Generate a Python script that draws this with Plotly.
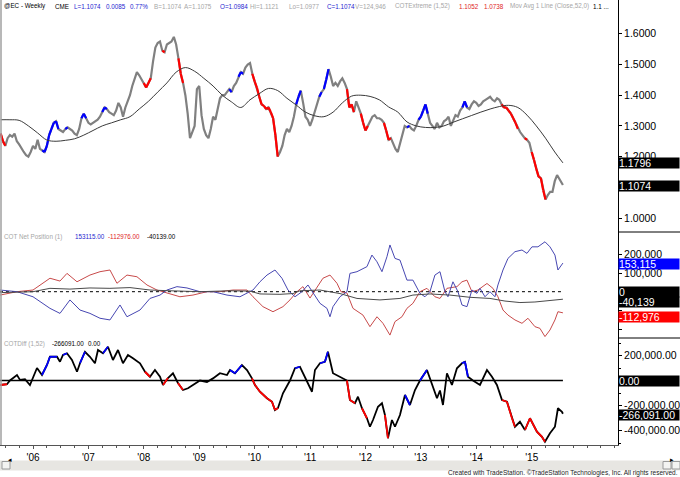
import numpy as np
import plotly.graph_objects as go

# ------------------------------------------------------------------ data
# weekly euro FX futures, sampled twice a month (1st / 15th), Jun 2005 .. Jul 2015
price_2005 = [1.275, 1.25, 1.235, 1.26, 1.27, 1.265, 1.275, 1.25, 1.24, 1.225, 1.215, 1.205, 1.20, 1.215]
price_2006 = [1.235, 1.225, 1.255, 1.225, 1.22, 1.215, 1.235, 1.27, 1.29, 1.31, 1.315, 1.29,
              1.285, 1.28, 1.29, 1.295, 1.29, 1.285, 1.275, 1.27, 1.29, 1.325, 1.34, 1.325]
price_2007 = [1.31, 1.305, 1.31, 1.315, 1.32, 1.33, 1.345, 1.36, 1.355, 1.345, 1.34, 1.335,
              1.35, 1.375, 1.36, 1.33, 1.36, 1.38, 1.40, 1.43, 1.45, 1.475, 1.465, 1.45]
price_2008 = [1.44, 1.425, 1.44, 1.455, 1.51, 1.555, 1.57, 1.575, 1.545, 1.54, 1.565, 1.57,
              1.575, 1.59, 1.565, 1.52, 1.47, 1.44, 1.40, 1.34, 1.26, 1.28, 1.30, 1.42]
price_2009 = [1.43, 1.335, 1.29, 1.27, 1.26, 1.29, 1.33, 1.32, 1.35, 1.39, 1.40, 1.40,
              1.41, 1.42, 1.41, 1.43, 1.44, 1.46, 1.475, 1.47, 1.49, 1.50, 1.505, 1.47]
price_2010 = [1.445, 1.425, 1.395, 1.37, 1.365, 1.355, 1.36, 1.345, 1.325, 1.27, 1.20, 1.215,
              1.235, 1.27, 1.29, 1.28, 1.30, 1.33, 1.37, 1.395, 1.415, 1.375, 1.33, 1.32]
price_2011 = [1.30, 1.32, 1.345, 1.37, 1.395, 1.41, 1.42, 1.45, 1.485, 1.46, 1.43, 1.44,
              1.43, 1.445, 1.455, 1.44, 1.42, 1.36, 1.37, 1.345, 1.38, 1.36, 1.34, 1.31]
price_2012 = [1.285, 1.30, 1.315, 1.33, 1.335, 1.325, 1.325, 1.32, 1.31, 1.285, 1.255, 1.26,
              1.24, 1.225, 1.215, 1.245, 1.27, 1.30, 1.295, 1.30, 1.29, 1.285, 1.30, 1.32]
price_2013 = [1.33, 1.35, 1.37, 1.34, 1.31, 1.30, 1.29, 1.31, 1.295, 1.30, 1.315, 1.32,
              1.33, 1.30, 1.32, 1.335, 1.33, 1.35, 1.36, 1.38, 1.36, 1.355, 1.37, 1.38]
price_2014 = [1.375, 1.365, 1.37, 1.38, 1.385, 1.39, 1.395, 1.385, 1.38, 1.39, 1.385, 1.37,
              1.36, 1.36, 1.35, 1.34, 1.325, 1.31, 1.29, 1.28, 1.27, 1.26, 1.255, 1.245]
price_2015 = [1.215, 1.19, 1.16, 1.135, 1.13, 1.09, 1.06, 1.075, 1.085, 1.085, 1.12, 1.14, 1.125, 1.115]
last_close = 1.1074
last_t = 2015.564

price_close = (price_2005 + price_2006 + price_2007 + price_2008 + price_2009 + price_2010 +
               price_2011 + price_2012 + price_2013 + price_2014 + price_2015 + [last_close])
price_t = list(2005 + 5 / 12 + np.arange(len(price_close) - 1) / 24) + [last_t]

# 52-week moving average, read every two months
ma_vals = [1.32, 1.32, 1.318, 1.30, 1.277, 1.254, 1.25, 1.253, 1.258, 1.27, 1.285, 1.30,
           1.31, 1.32, 1.33, 1.355, 1.38, 1.41, 1.44, 1.475, 1.49, 1.478, 1.455, 1.43,
           1.40, 1.378, 1.36, 1.385, 1.405, 1.422, 1.415, 1.39, 1.368, 1.345, 1.333, 1.33,
           1.345, 1.375, 1.397, 1.40, 1.396, 1.385, 1.362, 1.345, 1.313, 1.30, 1.295, 1.295,
           1.30, 1.312, 1.323, 1.334, 1.345, 1.355, 1.363, 1.367, 1.36, 1.335, 1.30, 1.26,
           1.215, 1.1796]
ma_t = list(2005 + 5 / 12 + np.arange(len(ma_vals) - 1) / 6) + [last_t]

# COTExtreme highlight periods (decimal years)
red_periods = [(2005.40, 2005.51), (2008.00, 2008.12), (2008.32, 2008.39), (2008.64, 2008.72),
               (2009.96, 2010.41), (2011.66, 2011.78), (2011.92, 2012.04), (2012.35, 2012.44),
               (2014.44, 2014.74), (2014.86, 2014.93), (2015.00, 2015.16), (2015.18, 2015.26)]
blue_periods = [(2006.15, 2006.45), (2006.58, 2006.64), (2006.88, 2006.94), (2007.24, 2007.34),
                (2009.54, 2009.58), (2009.70, 2009.78), (2010.76, 2010.84), (2011.16, 2011.20),
                (2011.26, 2011.33), (2012.74, 2012.81), (2012.96, 2013.11), (2013.74, 2013.84)]

# COT net positions (thousands of contracts)
cot_red_t = [2005.404, 2005.711, 2006.000, 2006.306, 2006.487, 2006.613, 2006.794, 2007.028, 2007.209,
             2007.389, 2007.515, 2007.696, 2007.876, 2008.057, 2008.237, 2008.418, 2008.526, 2008.652,
             2008.887, 2009.140, 2009.374, 2009.609, 2009.862, 2009.970, 2010.150, 2010.331, 2010.511,
             2010.638, 2010.764, 2010.872, 2010.999, 2011.125, 2011.233, 2011.360, 2011.486, 2011.558,
             2011.666, 2011.775, 2011.955, 2012.081, 2012.208, 2012.316, 2012.442, 2012.533, 2012.659,
             2012.749, 2012.857, 2012.984, 2013.110, 2013.254, 2013.345, 2013.471, 2013.651, 2013.742,
             2013.832, 2013.922, 2014.030, 2014.193, 2014.301, 2014.391, 2014.482, 2014.572, 2014.698,
             2014.825, 2014.933, 2015.059, 2015.149, 2015.240, 2015.330, 2015.420, 2015.474, 2015.564]
cot_red_k = [-18, 0, 9, 72, 57, 98, 53, 89, 107, 116, 45, 89, 80, 36, 9, -7, -18, -27, -18, 0, 0, 9, 9,
             -27, -80, -107, -80, -44, 0, 27, -34, 27, 72, 89, 45, 0, -7, -89, -125, -187, -134, -169,
             -232, -160, -134, -89, -62, 0, 18, -27, -36, 18, 27, 53, 62, 0, 9, 44, 18, -27, -98, -125,
             -151, -169, -142, -187, -196, -240, -205, -151, -107, -112.976]

cot_blue_t = [2005.404, 2005.711, 2006.000, 2006.306, 2006.487, 2006.667, 2006.848, 2007.028, 2007.209,
              2007.389, 2007.570, 2007.696, 2007.931, 2008.111, 2008.292, 2008.418, 2008.598, 2008.779,
              2009.013, 2009.248, 2009.501, 2009.735, 2009.970, 2010.096, 2010.223, 2010.367, 2010.493,
              2010.602, 2010.728, 2010.854, 2010.962, 2011.089, 2011.179, 2011.305, 2011.360, 2011.414,
              2011.540, 2011.666, 2011.720, 2011.847, 2012.027, 2012.117, 2012.208, 2012.298, 2012.388,
              2012.442, 2012.533, 2012.623, 2012.749, 2012.857, 2012.984, 2013.074, 2013.164, 2013.254,
              2013.345, 2013.435, 2013.489, 2013.579, 2013.670, 2013.742, 2013.832, 2013.922, 2014.012,
              2014.067, 2014.157, 2014.247, 2014.337, 2014.391, 2014.482, 2014.572, 2014.698, 2014.825,
              2014.915, 2015.005, 2015.113, 2015.240, 2015.330, 2015.420, 2015.474, 2015.564]
cot_blue_k = [9, 0, -27, -89, -116, -44, -98, -116, -142, -151, -71, -134, -98, -36, -18, 9, 27, 20,
              0, 0, -18, -27, 9, 53, 89, 116, 72, 9, -27, 0, 36, -18, -62, -89, -134, -80, -27, 0, 98,
              107, 134, 196, 160, 107, 187, 250, 178, 169, 62, 62, -9, -27, 0, 89, 107, 0, -27, 53, 0,
              -71, -80, 9, -9, 18, -27, 0, -27, 36, 116, 178, 214, 223, 205, 240, 240, 267, 240, 196,
              116, 153.115]

cot_black_t = [2005.404, 2005.711, 2006.000, 2006.306, 2006.667, 2007.028, 2007.389, 2007.750, 2008.111,
               2008.472, 2009.013, 2009.555, 2009.916, 2010.096, 2010.457, 2010.692, 2010.818, 2011.179,
               2011.540, 2011.847, 2012.262, 2012.623, 2012.857, 2013.164, 2013.525, 2013.886, 2014.247,
               2014.518, 2014.788, 2015.059, 2015.330, 2015.564]
cot_black_k = [-5, -3, 0, 18, 14, 20, 18, 22, 9, 5, 0, 5, 3, -12, -14, -10, 5, 9, -10, -36, -44, -36,
               -18, -12, -18, -30, -36, -50, -58, -55, -48, -40.139]

# COTDiff (1,52) (thousands)
diff_t = [2005.404, 2005.530, 2005.584, 2005.711, 2005.765, 2005.855, 2005.945, 2006.000, 2006.072,
          2006.162, 2006.252, 2006.306, 2006.433, 2006.487, 2006.541, 2006.613, 2006.703, 2006.794,
          2006.848, 2006.938, 2007.028, 2007.118, 2007.173, 2007.263, 2007.353, 2007.443, 2007.534,
          2007.624, 2007.714, 2007.804, 2007.931, 2008.021, 2008.111, 2008.201, 2008.292, 2008.346,
          2008.436, 2008.526, 2008.616, 2008.707, 2008.797, 2008.887, 2009.013, 2009.140, 2009.248,
          2009.374, 2009.501, 2009.555, 2009.645, 2009.771, 2009.862, 2009.952, 2010.006, 2010.096,
          2010.223, 2010.313, 2010.367, 2010.421, 2010.511, 2010.638, 2010.728, 2010.818, 2010.908,
          2011.035, 2011.089, 2011.179, 2011.269, 2011.323, 2011.414, 2011.540, 2011.666, 2011.720,
          2011.811, 2011.865, 2011.937, 2012.027, 2012.081, 2012.136, 2012.226, 2012.298, 2012.352,
          2012.406, 2012.478, 2012.533, 2012.623, 2012.713, 2012.803, 2012.894, 2012.984, 2013.110,
          2013.200, 2013.291, 2013.345, 2013.399, 2013.471, 2013.561, 2013.651, 2013.742, 2013.796,
          2013.850, 2013.940, 2014.067, 2014.193, 2014.283, 2014.373, 2014.464, 2014.554, 2014.644,
          2014.698, 2014.788, 2014.879, 2014.969, 2015.095, 2015.185, 2015.240, 2015.330, 2015.420,
          2015.474, 2015.546, 2015.564]
diff_k = [-36, -30, 0, 44, 5, 10, -36, 20, 100, 44, 124, 190, 190, 150, 204, 218, 164, 70, 138, 230,
          190, 138, 244, 218, 270, 164, 244, 138, 204, 178, 138, 70, 30, 84, 30, -36, 20, 58, -20, -76,
          -62, -36, 0, -12, 17, 58, 44, 84, 58, 124, 84, 17, -36, -90, -142, -170, -236, -220, -102, 0,
          98, 110, 30, -90, 84, 138, 150, 230, 58, 30, 0, -156, -182, -130, -222, -302, -370, -316, -210,
          -182, -276, -462, -316, -370, -276, -116, -196, -76, 0, 84, -22, -142, -80, -196, 58, -36, 98,
          138, 150, 30, 0, -36, 84, 30, -36, -156, -170, -302, -370, -330, -396, -302, -410, -450, -490,
          -422, -370, -222, -250, -266.091]

year_ticks = list(range(2006, 2016))
year_labels = ["'06", "'07", "'08", "'09", "'10", "'11", "'12", "'13", "'14", "'15"]

# ------------------------------------------------------------------ helpers
W, H = 680, 477
ML, MR, MT, MB = 0, 62, 0, 32
PW, PH = W - ML - MR, H - MT - MB


def pxx(x):
    return (x - ML) / PW


def pxy(y):
    return (H - MB - y) / PH


def highlight(ts, vs, periods):
    xs, ys = [], []
    for i in range(len(ts) - 1):
        a, b = ts[i], ts[i + 1]
        for p0, p1 in periods:
            ov = min(b, p1) - max(a, p0)
            if ov > 0 and ov >= 0.5 * min(b - a, p1 - p0):
                xs += [a, b, None]
                ys += [vs[i], vs[i + 1], None]
                break
    return xs, ys


FONT = "Liberation Sans, Arial, sans-serif"
GRAY_T = "#a6a6a6"
BLUE_T = "#2626d0"
RED_T = "#e02424"

cot_red = [v * 1000 for v in cot_red_k]
cot_blue = [v * 1000 for v in cot_blue_k]
cot_black = [v * 1000 for v in cot_black_k]
diff = [v * 1000 for v in diff_k]

fig = go.Figure()

# panel 1: price
fig.add_trace(go.Scatter(x=price_t, y=price_close, mode="lines",
                         line=dict(color="#808080", width=2.2), xaxis="x", yaxis="y"))
rx, ry = highlight(price_t, price_close, red_periods)
fig.add_trace(go.Scatter(x=rx, y=ry, mode="lines", line=dict(color="#ff0000", width=2.2),
                         xaxis="x", yaxis="y"))
bx, by = highlight(price_t, price_close, blue_periods)
fig.add_trace(go.Scatter(x=bx, y=by, mode="lines", line=dict(color="#0000ff", width=2.2),
                         xaxis="x", yaxis="y"))
fig.add_trace(go.Scatter(x=ma_t, y=ma_vals, mode="lines", line=dict(color="#3a3a3a", width=1, shape="spline"),
                         xaxis="x", yaxis="y"))

# panel 2: COT net positions
fig.add_trace(go.Scatter(x=[cot_blue_t[0], cot_blue_t[-1]], y=[0, 0], mode="lines",
                         line=dict(color="#000000", width=1, dash="dot"), xaxis="x2", yaxis="y2"))
fig.add_trace(go.Scatter(x=cot_red_t, y=cot_red, mode="lines", line=dict(color="#c84a4a", width=1),
                         xaxis="x2", yaxis="y2"))
fig.add_trace(go.Scatter(x=cot_blue_t, y=cot_blue, mode="lines", line=dict(color="#4747b2", width=1),
                         xaxis="x2", yaxis="y2"))
fig.add_trace(go.Scatter(x=cot_black_t, y=cot_black, mode="lines", line=dict(color="#4a4a4a", width=1),
                         xaxis="x2", yaxis="y2"))

# panel 3: COTDiff
fig.add_trace(go.Scatter(x=[diff_t[0], diff_t[-1]], y=[0, 0], mode="lines",
                         line=dict(color="#000000", width=1.5), xaxis="x3", yaxis="y3"))
fig.add_trace(go.Scatter(x=diff_t, y=diff, mode="lines", line=dict(color="#000000", width=1.8),
                         xaxis="x3", yaxis="y3"))
rx, ry = highlight(diff_t, diff, red_periods)
fig.add_trace(go.Scatter(x=rx, y=ry, mode="lines", line=dict(color="#ff0000", width=1.8),
                         xaxis="x3", yaxis="y3"))
bx, by = highlight(diff_t, diff, blue_periods)
fig.add_trace(go.Scatter(x=bx, y=by, mode="lines", line=dict(color="#0000ff", width=1.8),
                         xaxis="x3", yaxis="y3"))

xr = [2005.4044, 2016.558]
xcommon = dict(range=xr, showgrid=False, zeroline=False, fixedrange=True)
ycommon = dict(side="right", showgrid=False, zeroline=False, showline=True, linecolor="#000000",
               linewidth=1, ticks="outside", ticklen=3, tickcolor="#000000",
               tickfont=dict(family=FONT, size=10.5, color="#000000"))

fig.update_layout(
    width=W, height=H, margin=dict(l=ML, r=MR, t=MT, b=MB),
    paper_bgcolor="white", plot_bgcolor="white", showlegend=False,
    font=dict(family=FONT, color="#000000"),
    xaxis=dict(**xcommon, anchor="y", showticklabels=False, ticks=""),
    xaxis2=dict(**xcommon, anchor="y2", showticklabels=False, ticks=""),
    xaxis3=dict(**xcommon, anchor="y3", showline=True, linecolor="#555555", linewidth=1,
                ticks="outside", ticklen=3, tickcolor="#555555",
                tickvals=year_ticks, ticktext=year_labels,
                tickfont=dict(family=FONT, size=10, color="#000000"),
                minor=dict(dtick=0.25, tick0=2006, ticks="outside", ticklen=2, tickcolor="#555555")),
    yaxis=dict(**ycommon, domain=[pxy(232), 1], range=[0.9544, 1.7101],
               tickvals=[1.0, 1.1, 1.2, 1.3, 1.4, 1.5, 1.6],
               ticktext=["1.0000", "", "1.2000", "1.3000", "1.4000", "1.5000", "1.6000"]),
    yaxis2=dict(**ycommon, domain=[pxy(338), pxy(232)], range=[-247600, 319300],
                tickvals=[-200000, -100000, 0, 100000, 200000],
                ticktext=["", "", "", "100,000", "200,000"]),
    yaxis3=dict(**ycommon, domain=[0, pxy(338)], range=[-516000, 340000],
                tickvals=[-400000, -200000, 0, 200000],
                ticktext=["-400,000.00", "-200,000.00", "", "200,000.00"],
                minor=dict(dtick=100000, ticks="outside", ticklen=2, tickcolor="#000000")),
)

# header texts
header1 = [("@EC - Weekly", "#000000", 2), ("CME", "#000000", 53), ("L=1.1074", BLUE_T, 72),
           ("0.0085", BLUE_T, 104), ("0.77%", BLUE_T, 128), ("B=1.1074", GRAY_T, 152),
           ("A=1.1075", GRAY_T, 182), ("O=1.0984", BLUE_T, 218), ("Hi=1.1121", GRAY_T, 248),
           ("Lo=1.0977", GRAY_T, 287), ("C=1.1074", BLUE_T, 325), ("V=124,946", GRAY_T, 353),
           ("COTExtreme (1,52)", GRAY_T, 393), ("1.1052", RED_T, 457), ("1.0738", RED_T, 482),
           ("Mov Avg 1 Line (Close,52,0)", GRAY_T, 508), ("1.1 ...", "#000000", 591)]
header2 = [("COT Net Position (1)", GRAY_T, 2), ("153115.00", BLUE_T, 73),
           ("-112976.00", RED_T, 106), ("-40139.00", "#000000", 145)]
header3 = [("COTDiff (1,52)", GRAY_T, 2), ("-266091.00", "#000000", 50), ("0.00", "#000000", 86)]

ann = []
for items, yp in ((header1, 6.5), (header2, 237), (header3, 343.5)):
    for txt, col, xp in items:
        ann.append(dict(text=txt, x=pxx(xp), y=pxy(yp), xref="paper", yref="paper",
                        xanchor="left", yanchor="middle", showarrow=False,
                        font=dict(family=FONT, size=6.3, color=col)))

# value boxes on the right axis
boxes = [("1.1796", "#000000", "y", 1.1796, 0), ("1.1074", "#000000", "y", 1.1074, -1),
         ("153,115", "#0000ff", "y2", 153115, -1), ("0", "#000000", "y2", 0, 0),
         ("-40,139", "#000000", "y2", -40139, -3), ("-112,976", "#ff0000", "y2", -112976, -4),
         ("0.00", "#000000", "y3", 0, 0), ("-266,091.00", "#000000", "y3", -266091, -1)]
for txt, bg, yref, val, sh in boxes:
    ann.append(dict(text=txt, x=1, y=val, xref="paper", yref=yref, xanchor="left", yanchor="middle",
                    yshift=sh, showarrow=False, bgcolor=bg, width=60, height=10, align="left",
                    borderpad=0, font=dict(family=FONT, size=10.5, color="#ffffff")))

ann.append(dict(text="Created with TradeStation. ©TradeStation Technologies, Inc. All rights reserved.",
                x=pxx(680), y=pxy(473.5), xref="paper", yref="paper", xanchor="right", yanchor="middle",
                showarrow=False, font=dict(family=FONT, size=6.5, color="#222222")))
ann.append(dict(text="◂", x=pxx(6), y=pxy(465), xref="paper", yref="paper", showarrow=False,
                font=dict(family=FONT, size=7, color="#000000")))
ann.append(dict(text="▸", x=pxx(676), y=pxy(465), xref="paper", yref="paper", showarrow=False,
                font=dict(family=FONT, size=7, color="#000000")))
fig.update_layout(annotations=ann)

shapes = [
    # scroll bar
    dict(type="rect", xref="paper", yref="paper", x0=pxx(0), x1=pxx(680), y0=pxy(470.5), y1=pxy(460.5),
         fillcolor="#e7e6e2", line=dict(width=0), layer="below"),
    dict(type="rect", xref="paper", yref="paper", x0=pxx(2), x1=pxx(10), y0=pxy(469), y1=pxy(461.5),
         fillcolor="#f4f4f2", line=dict(color="#9a9a9a", width=1)),
    dict(type="rect", xref="paper", yref="paper", x0=pxx(663), x1=pxx(671), y0=pxy(469), y1=pxy(461.5),
         fillcolor="#f4f4f2", line=dict(color="#9a9a9a", width=1)),
    dict(type="rect", xref="paper", yref="paper", x0=pxx(672), x1=pxx(680), y0=pxy(469), y1=pxy(461.5),
         fillcolor="#f4f4f2", line=dict(color="#9a9a9a", width=1)),
    # left frame
    dict(type="line", xref="paper", yref="paper", x0=pxx(1), x1=pxx(1), y0=0, y1=1,
         line=dict(color="#a0a0a0", width=1.5)),
    # separators in the price-scale area
    dict(type="line", xref="paper", yref="paper", x0=1, x1=pxx(680), y0=pxy(232), y1=pxy(232),
         line=dict(color="#000000", width=1)),
    dict(type="line", xref="paper", yref="paper", x0=1, x1=pxx(680), y0=pxy(338), y1=pxy(338),
         line=dict(color="#000000", width=1)),
]
fig.update_layout(shapes=shapes)

fig.write_html("out.html")
